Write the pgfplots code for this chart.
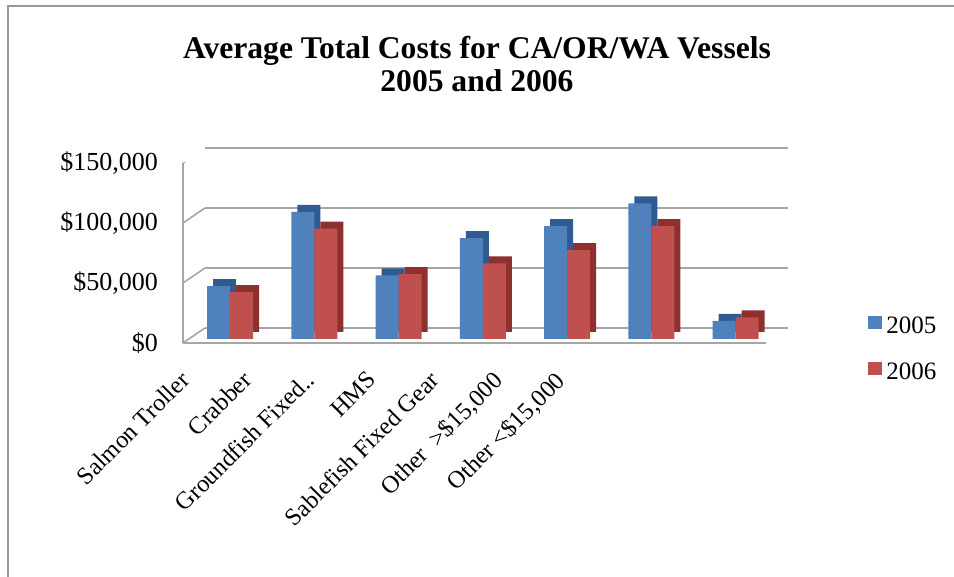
\documentclass[border=0pt]{standalone}
\usepackage{pgfplots}
\pgfplotsset{compat=1.18}
\usepackage{pgfplotstable}
\usepackage{fontspec}
\setmainfont{Liberation Serif}

\definecolor{c05}{HTML}{4F81BD}
\definecolor{c06}{HTML}{C0504D}
\definecolor{c05d}{HTML}{2F5B91}
\definecolor{c06d}{HTML}{8E302D}
\definecolor{gridc}{HTML}{A6A6A6}

% average total costs per vessel type
\pgfplotstableread{
x y05 y06
0 44000 39000
1 106000 92000
2 53000 54000
3 84000 63000
4 94000 74000
5 113000 94000
6 15000 18000
}\costs

\begin{document}
\begin{tikzpicture}
\useasboundingbox (0,0) rectangle (477pt,288.5pt);
\draw[gray!80, line width=0.8pt] (4pt,-5pt) -- (4pt,285.5pt) -- (490pt,285.5pt);
\node[font=\bfseries\fontsize{15.8}{16.5}\selectfont, align=center] at (238.5pt,256.5pt)
  {Average Total Costs for CA/OR/WA Vessels\\2005 and 2006};

\begin{axis}[
    at={(91.5pt,117pt)}, anchor=south west,
    scale only axis, width=291.5pt, height=90pt,
    xmin=-0.56, xmax=6.36, ymin=0, ymax=150000,
    ybar, bar width=11.5pt,
    axis x line*=bottom, axis y line*=left,
    axis line style={gridc, line width=0.8pt, -},
    major tick length=0pt,
    scaled y ticks=false,
    ymajorgrids,
    major grid style={gridc, line width=0.8pt, xshift=11pt, yshift=7.5pt},
    ytick={0,50000,100000,150000},
    yticklabels={\$0,{\$50,000},{\$100,000},{\$150,000}},
    yticklabel style={font=\fontsize{13}{15}\selectfont, xshift=-9pt},
    xtick={-0.47,0.27,1.01,1.75,2.49,3.24,3.98},
    xticklabels={Salmon Troller,Crabber,Groundfish Fixed..,HMS,Sablefish Fixed Gear,{Other \ >\$15,000},{Other <\$15,000}},
    xticklabel style={font=\fontsize{12.2}{14}\selectfont, rotate=45, anchor=north east, inner sep=0pt, xshift=-13.4pt, yshift=-5.2pt},
    legend style={draw=none, fill=none, at={(1.175,0.17)}, anchor=north west,
      font=\fontsize{12.5}{14}\selectfont, row sep=9pt, inner sep=0pt},
    legend cell align=left,
    legend image code/.code={\fill[#1] (0pt,-3.3pt) rectangle (7pt,3.3pt);},
]
% side and top faces
\addplot[fill=c05d, draw=none, bar shift=-5.75pt, xshift=3pt, yshift=5.5pt, forget plot]
  table[x=x, y=y05] {\costs};
\addplot[fill=c06d, draw=none, bar shift=5.75pt, xshift=3pt, yshift=5.5pt, forget plot]
  table[x=x, y=y06] {\costs};
% front faces
\addplot[fill=c05, draw=none, bar shift=-5.75pt, yshift=2pt] table[x=x, y=y05] {\costs};
\addlegendentry{2005}
\addplot[fill=c06, draw=none, bar shift=5.75pt, yshift=2pt] table[x=x, y=y06] {\costs};
\addlegendentry{2006}
% left wall and floor edges
\pgfplotsinvokeforeach{0,50000,100000,150000}{
  \draw[gridc, line width=0.8pt] (axis cs:-0.56,#1) -- ++(11pt,7.5pt);
}
\draw[gridc, line width=0.8pt] (axis cs:6.36,0) -- ++(11pt,7.5pt);
\end{axis}
\end{tikzpicture}
\end{document}
